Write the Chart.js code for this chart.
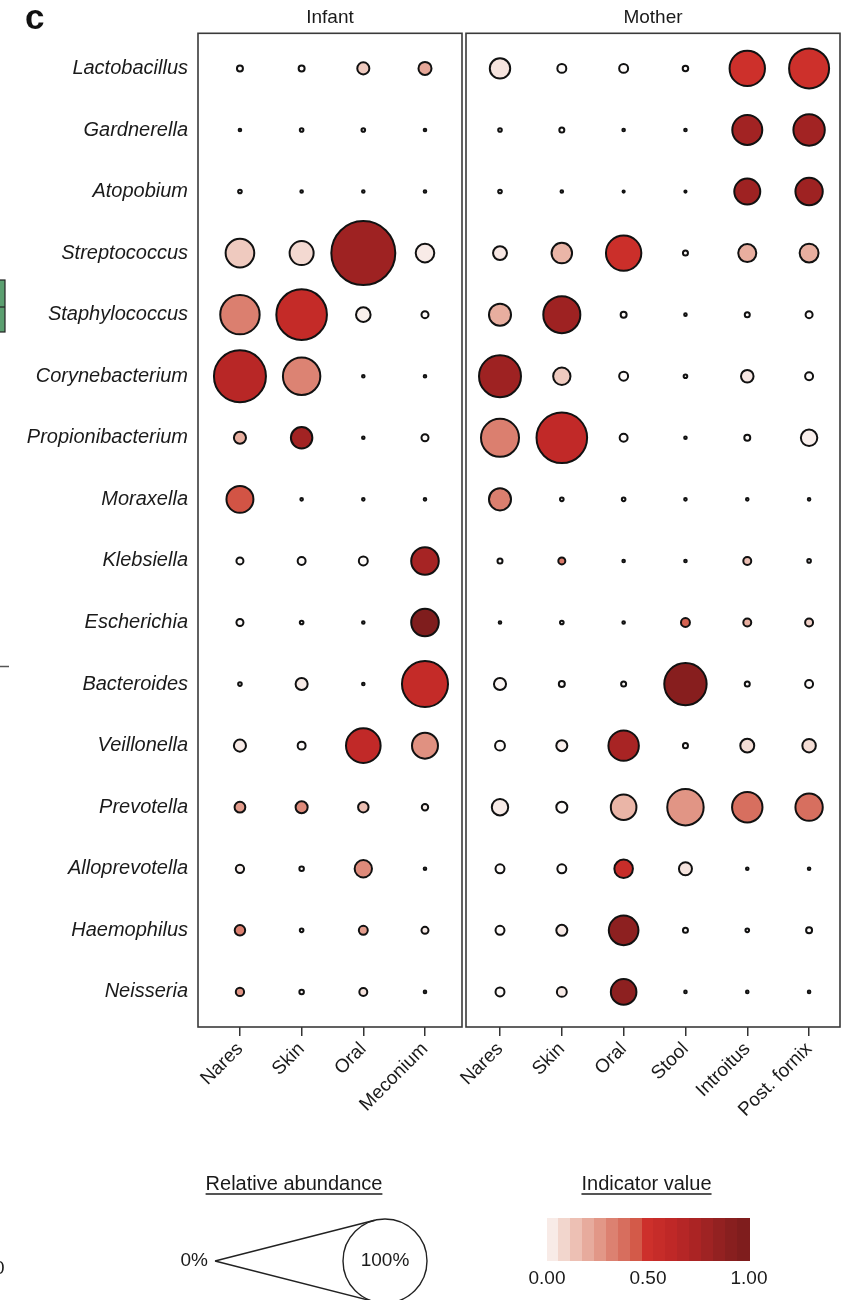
<!DOCTYPE html>
<html>
<head>
<meta charset="utf-8">
<script src="https://cdn.jsdelivr.net/npm/chart.js@4.4.1/dist/chart.umd.min.js"></script>
<style>
html,body{margin:0;padding:0;background:#fff;}
#wrap{position:relative;width:853px;height:1300px;overflow:hidden;}
canvas{position:absolute;left:0;top:0;}
</style>
</head>
<body>
<div id="wrap">
<canvas id="cInf" width="853" height="1300"></canvas>
<canvas id="cMom" width="853" height="1300"></canvas>
</div>
<script>
// ---------------- DATA ----------------
const genera = ['Lactobacillus','Gardnerella','Atopobium','Streptococcus','Staphylococcus','Corynebacterium','Propionibacterium','Moraxella','Klebsiella','Escherichia','Bacteroides','Veillonella','Prevotella','Alloprevotella','Haemophilus','Neisseria'];
const infantSites = ['Nares','Skin','Oral','Meconium'];
const motherSites = ['Nares','Skin','Oral','Stool','Introitus','Post. fornix'];

// relative abundance (%), rows = genera, cols = sites
const infantAbundance = [
  [0.9, 0.9, 2.8, 3.2],
  [0.3, 0.45, 0.45, 0.3],
  [0.45, 0.3, 0.3, 0.3],
  [13.3, 9.6, 61.7, 6.0],
  [24.3, 39.2, 3.9, 1.15],
  [41.3, 22.0, 0.3, 0.3],
  [2.8, 7.8, 0.3, 1.15],
  [11.9, 0.3, 0.3, 0.3],
  [1.15, 1.4, 1.7, 12.4],
  [1.15, 0.45, 0.3, 12.4],
  [0.45, 2.8, 0.3, 32.7],
  [2.8, 1.4, 19.0, 11.1],
  [2.3, 2.8, 2.2, 1.0],
  [1.5, 0.6, 5.3, 0.3],
  [2.2, 0.45, 1.7, 1.15],
  [1.5, 0.6, 1.4, 0.3]
];
// indicator value (0-1)
const infantIndicator = [
  [0.0, 0.0, 0.12, 0.22],
  [0, 0, 0, 0],
  [0, 0, 0, 0],
  [0.12, 0.08, 0.8, 0.03],
  [0.33, 0.58, 0.02, 0.0],
  [0.66, 0.32, 0, 0],
  [0.2, 0.78, 0, 0],
  [0.45, 0, 0, 0],
  [0, 0, 0, 0.76],
  [0, 0, 0, 0.97],
  [0, 0.03, 0, 0.58],
  [0.03, 0, 0.6, 0.28],
  [0.25, 0.3, 0.15, 0.02],
  [0.02, 0, 0.3, 0],
  [0.33, 0, 0.25, 0.03],
  [0.27, 0, 0.05, 0]
];
const motherAbundance = [
  [7.1, 1.7, 1.7, 0.8, 19.8, 25.0],
  [0.45, 0.7, 0.3, 0.3, 14.5, 15.8],
  [0.45, 0.3, 0.23, 0.23, 11.1, 12.2],
  [3.6, 7.2, 19.8, 0.7, 5.7, 6.2],
  [8.2, 21.6, 0.9, 0.3, 0.7, 1.15],
  [27.4, 5.3, 1.7, 0.45, 3.0, 1.4],
  [22.7, 39.2, 1.4, 0.3, 0.9, 4.8],
  [8.2, 0.45, 0.45, 0.3, 0.3, 0.3],
  [0.7, 1.15, 0.3, 0.3, 1.4, 0.45],
  [0.3, 0.45, 0.3, 1.7, 1.4, 1.4],
  [2.8, 0.9, 0.7, 27.9, 0.7, 1.4],
  [2.0, 2.4, 14.9, 0.7, 3.6, 3.4],
  [4.8, 2.4, 10.8, 20.9, 14.9, 12.2],
  [1.7, 1.7, 6.0, 3.2, 0.3, 0.3],
  [1.7, 2.4, 14.2, 0.7, 0.45, 0.9],
  [1.7, 2.0, 10.8, 0.3, 0.3, 0.3]
];
const motherIndicator = [
  [0.05, 0, 0, 0, 0.5, 0.5],
  [0, 0, 0, 0, 0.78, 0.78],
  [0, 0, 0, 0, 0.8, 0.8],
  [0.04, 0.18, 0.52, 0, 0.2, 0.2],
  [0.2, 0.8, 0, 0, 0, 0],
  [0.8, 0.12, 0, 0, 0.04, 0],
  [0.33, 0.6, 0, 0, 0, 0.02],
  [0.33, 0, 0, 0, 0, 0],
  [0, 0.35, 0, 0, 0.15, 0],
  [0, 0, 0, 0.42, 0.2, 0.1],
  [0.01, 0, 0, 0.92, 0, 0],
  [0, 0.02, 0.75, 0, 0.07, 0.07],
  [0.03, 0, 0.18, 0.27, 0.38, 0.38],
  [0, 0, 0.55, 0.05, 0, 0],
  [0, 0.03, 0.88, 0, 0, 0],
  [0, 0.03, 0.88, 0, 0, 0]
];
const indicatorTickLabels = ['0.00', '0.50', '1.00'];
const indicatorTickValues = [0, 0.5, 1];
const sizeLegendLabels = ['0%', '100%'];

// ---------------- STYLE ----------------
const FONT = '"Liberation Sans", Arial, Helvetica, sans-serif';
const TEXT = '#1a1a1a';
const paletteStops = [
  [0.00, '#fefbfa'], [0.03, '#f8ebe7'], [0.08, '#f3d9d1'], [0.13, '#eec6bb'],
  [0.19, '#e9b1a3'], [0.25, '#e39c8c'], [0.31, '#dd8676'], [0.37, '#d87262'],
  [0.44, '#d35b4a'], [0.50, '#cd302b'], [0.62, '#bf2827'], [0.75, '#a82424'],
  [0.87, '#8f2020'], [1.00, '#7a1c1c']
];
function hexRgb(h){ return [parseInt(h.slice(1,3),16), parseInt(h.slice(3,5),16), parseInt(h.slice(5,7),16)]; }
function paletteColor(v){
  v = Math.max(0, Math.min(1, v));
  for (let i = 1; i < paletteStops.length; i++) {
    const [p1, c1] = paletteStops[i];
    const [p0, c0] = paletteStops[i-1];
    if (v <= p1) {
      const t = (v - p0) / (p1 - p0 || 1);
      const a = hexRgb(c0), b = hexRgb(c1);
      return 'rgb(' + a.map((x, k) => Math.round(x + (b[k] - x) * t)).join(',') + ')';
    }
  }
  return paletteStops[paletteStops.length-1][1];
}
const MAX_R = 42; // radius of 100% circle
const BORDER_W = 2;
function sizeRadius(a){ return Math.max(1.1, MAX_R * Math.sqrt(a / 100) - BORDER_W / 2); }

function makeDataset(abund, ind){
  const pts = [], colors = [];
  abund.forEach((row, i) => row.forEach((a, j) => {
    pts.push({x: j, y: i, r: sizeRadius(a)});
    colors.push(paletteColor(ind[i][j]));
  }));
  return {data: pts, backgroundColor: colors, borderColor: '#111', borderWidth: BORDER_W,
          hoverBorderWidth: BORDER_W, clip: false};
}

const panelBox = {
  id: 'panelBox',
  afterDatasetsDraw(chart){
    const {ctx, chartArea: a} = chart;
    ctx.save();
    ctx.strokeStyle = '#3a3a3a';
    ctx.lineWidth = 1.6;
    ctx.strokeRect(a.left, a.top, a.right - a.left, a.bottom - a.top);
    ctx.restore();
  }
};

const Y_MIN = -0.57, Y_MAX = 15.57;

function xScale(sites, min, max){
  return {
    type: 'linear', min, max,
    afterBuildTicks: s => { s.ticks = sites.map((_, i) => ({value: i})); },
    afterFit: s => { s.height = 100; s.paddingLeft = 0; s.paddingRight = 0; },
    border: {display: false},
    grid: {display: true, drawOnChartArea: false, drawTicks: true, tickLength: 9, color: '#333', lineWidth: 1.5},
    ticks: {autoSkip: false, minRotation: 45, maxRotation: 45, padding: 2, color: TEXT,
            font: {family: FONT, size: 19}, callback: v => sites[v]}
  };
}

const decorations = {
  id: 'decorations',
  afterDraw(chart){
    const ctx = chart.ctx;
    ctx.save();
    // panel letter
    ctx.fillStyle = '#111';
    ctx.font = 'bold 35px ' + FONT;
    ctx.textBaseline = 'alphabetic';
    ctx.textAlign = 'left';
    ctx.fillText('c', 25, 29);
    // cropped fragments of neighbouring panel at left edge
    ctx.fillStyle = '#5b9f70';
    ctx.fillRect(-3, 280, 8, 52);
    ctx.strokeStyle = '#222';
    ctx.lineWidth = 1.2;
    ctx.strokeRect(-3, 280, 8, 52);
    ctx.beginPath(); ctx.moveTo(-3, 307); ctx.lineTo(5, 307); ctx.stroke();
    ctx.strokeStyle = '#555';
    ctx.lineWidth = 1.5;
    ctx.beginPath(); ctx.moveTo(0, 666.5); ctx.lineTo(9, 666.5); ctx.stroke();
    ctx.fillStyle = TEXT;
    ctx.font = '19px ' + FONT;
    ctx.textBaseline = 'middle';
    ctx.fillText('0', -6, 1269);
    ctx.restore();
  }
};

const legends = {
  id: 'legends',
  afterDraw(chart){
    const ctx = chart.ctx;
    ctx.save();
    ctx.fillStyle = TEXT;
    ctx.textBaseline = 'middle';
    ctx.textAlign = 'center';
    ctx.font = '20px ' + FONT;
    // titles
    ctx.fillText('Relative abundance', 294, 1184);
    ctx.fillText('Indicator value', 646.5, 1184);
    ctx.strokeStyle = '#555';
    ctx.lineWidth = 2;
    let w1 = ctx.measureText('Relative abundance').width;
    let w2 = ctx.measureText('Indicator value').width;
    ctx.beginPath();
    ctx.moveTo(294 - w1/2, 1194); ctx.lineTo(294 + w1/2, 1194);
    ctx.moveTo(646.5 - w2/2, 1194); ctx.lineTo(646.5 + w2/2, 1194);
    ctx.stroke();
    // size legend
    const apx = 215, cy = 1261, cx = 385;
    ctx.font = '19px ' + FONT;
    ctx.textAlign = 'right';
    ctx.fillText(sizeLegendLabels[0], 208, cy);
    ctx.textAlign = 'center';
    ctx.fillText(sizeLegendLabels[1], cx, cy);
    const d = cx - apx;
    const th = Math.acos(MAX_R / d);
    ctx.strokeStyle = '#222';
    ctx.lineWidth = 1.4;
    ctx.beginPath();
    ctx.moveTo(apx, cy); ctx.lineTo(cx - MAX_R * Math.cos(th), cy - MAX_R * Math.sin(th));
    ctx.moveTo(apx, cy); ctx.lineTo(cx - MAX_R * Math.cos(th), cy + MAX_R * Math.sin(th));
    ctx.stroke();
    ctx.beginPath(); ctx.arc(cx, cy, MAX_R, 0, Math.PI * 2); ctx.stroke();
    // colour bar
    const bx0 = 547, bx1 = 749, by0 = 1218, by1 = 1261, n = 17;
    for (let k = 0; k < n; k++) {
      const xa = bx0 + (bx1 - bx0) * k / n, xb = bx0 + (bx1 - bx0) * (k + 1) / n;
      ctx.fillStyle = paletteColor((k + 0.5) / n);
      ctx.fillRect(Math.floor(xa), by0, Math.ceil(xb - xa) + 1, by1 - by0);
    }
    ctx.fillStyle = TEXT;
    ctx.font = '19px ' + FONT;
    indicatorTickValues.forEach((v, i) => {
      ctx.fillText(indicatorTickLabels[i], bx0 + (bx1 - bx0) * v, 1279);
    });
    ctx.restore();
  }
};

// ---------------- CHARTS ----------------
Chart.defaults.font.family = FONT;

new Chart(document.getElementById('cInf'), {
  type: 'bubble',
  data: {datasets: [makeDataset(infantAbundance, infantIndicator)]},
  options: {
    responsive: false, animation: false, events: [],
    layout: {autoPadding: false, padding: {left: 0, right: 391, top: 0.5, bottom: 173}},
    plugins: {
      legend: {display: false}, tooltip: {enabled: false},
      title: {display: true, text: 'Infant', fullSize: false, color: TEXT,
              font: {family: FONT, size: 19, weight: 'normal'}, padding: {top: 6, bottom: 4}}
    },
    scales: {
      x: xScale(infantSites, -0.68, 3.6),
      y: {
        type: 'linear', reverse: true, min: Y_MIN, max: Y_MAX,
        afterBuildTicks: s => { s.ticks = genera.map((_, i) => ({value: i})); },
        afterFit: s => { s.width = 198; },
        border: {display: false},
        grid: {display: false, drawTicks: false},
        ticks: {autoSkip: false, padding: 10, color: TEXT,
                font: {family: FONT, size: 20, style: 'italic'}, callback: v => genera[v]}
      }
    }
  },
  plugins: [panelBox, decorations]
});

new Chart(document.getElementById('cMom'), {
  type: 'bubble',
  data: {datasets: [makeDataset(motherAbundance, motherIndicator)]},
  options: {
    responsive: false, animation: false, events: [],
    layout: {autoPadding: false, padding: {left: 466, right: 13, top: 0.5, bottom: 173}},
    plugins: {
      legend: {display: false}, tooltip: {enabled: false},
      title: {display: true, text: 'Mother', fullSize: false, color: TEXT,
              font: {family: FONT, size: 19, weight: 'normal'}, padding: {top: 6, bottom: 4}}
    },
    scales: {
      x: xScale(motherSites, -0.55, 5.5),
      y: {type: 'linear', display: false, reverse: true, min: Y_MIN, max: Y_MAX}
    }
  },
  plugins: [panelBox, legends]
});
</script>
</body>
</html>
